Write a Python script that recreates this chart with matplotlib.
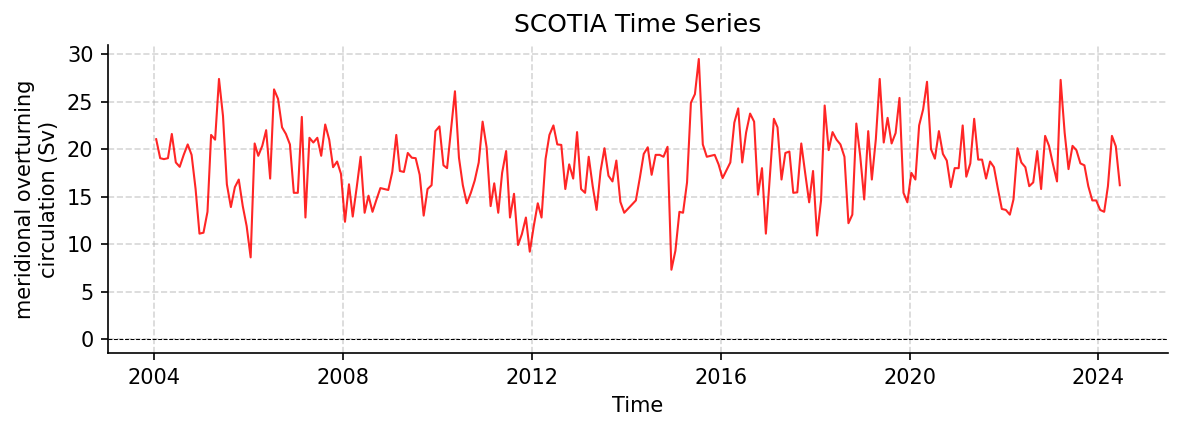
import numpy as np
import pandas as pd
import matplotlib
matplotlib.use("Agg")
import matplotlib.pyplot as plt

# Monthly SCOTIA MOC values (Sv), Jan 2004 - Jun 2024
moc_values = [
    # 2004
    21.05, 19.05, 18.95, 19.05, 21.6, 18.6, 18.14, 19.4, 20.5, 19.4, 15.8, 11.1,
    # 2005
    11.2, 13.4, 21.5, 21.0, 27.4, 23.5, 16.3, 13.9, 16.0, 16.8, 14.0, 11.9,
    # 2006
    8.6, 20.6, 19.3, 20.35, 22.0, 16.9, 26.3, 25.3, 22.3, 21.6, 20.5, 15.4,
    # 2007
    15.4, 23.4, 12.8, 21.2, 20.7, 21.2, 19.3, 22.6, 21.0, 18.1, 18.7, 17.4,
    # 2008
    12.35, 16.3, 12.9, 16.0, 19.2, 13.3, 15.1, 13.4, 14.7, 15.9, 15.8, 15.7,
    # 2009
    17.6, 21.5, 17.7, 17.6, 19.6, 19.1, 19.05, 17.3, 13.0, 15.8, 16.2, 21.9,
    # 2010
    22.4, 18.3, 18.0, 22.1, 26.1, 19.1, 16.2, 14.3, 15.4, 16.7, 18.6, 22.9,
    # 2011
    20.2, 14.0, 16.4, 13.3, 17.5, 19.8, 12.8, 15.3, 9.9, 11.05, 12.8, 9.2,
    # 2012
    11.9, 14.3, 12.8, 18.95, 21.5, 22.5, 20.5, 20.45, 15.8, 18.4, 16.9, 21.8,
    # 2013
    15.8, 15.4, 19.2, 16.1, 13.6, 17.7, 20.1, 17.2, 16.6, 18.8, 14.45, 13.3,
    # 2014
    13.75, 14.2, 14.6, 17.0, 19.5, 20.2, 17.3, 19.4, 19.4, 19.2, 20.25, 7.3,
    # 2015
    9.3, 13.4, 13.3, 16.5, 24.9, 25.8, 29.5, 20.5, 19.2, 19.3, 19.4, 18.4,
    # 2016
    16.95, 17.8, 18.6, 22.8, 24.3, 18.6, 21.75, 23.75, 22.9, 15.2, 18.0, 11.1,
    # 2017
    17.2, 23.2, 22.3, 16.8, 19.6, 19.75, 15.4, 15.45, 20.6, 17.5, 14.4, 17.7,
    # 2018
    10.9, 14.6, 24.6, 19.9, 21.8, 21.0, 20.5, 19.2, 12.2, 13.1, 22.7, 19.3,
    # 2019
    14.7, 21.9, 16.8, 21.05, 27.4, 20.7, 23.3, 20.6, 21.7, 25.4, 15.4, 14.4,
    # 2020
    17.5, 16.8, 22.5, 24.2, 27.1, 20.0, 19.0, 21.9, 19.5, 18.8, 16.0, 18.0,
    # 2021
    18.0, 22.5, 17.1, 18.5, 23.2, 18.9, 18.9, 16.9, 18.7, 18.1, 15.8, 13.7,
    # 2022
    13.6, 13.1, 14.7, 20.1, 18.6, 18.1, 16.1, 16.5, 19.8, 15.8, 21.4, 20.35,
    # 2023
    18.4, 16.6, 27.3, 21.75, 17.9, 20.35, 19.9, 18.5, 18.3, 16.1, 14.6, 14.6,
    # 2024
    13.6, 13.4, 16.1, 21.4, 20.3, 16.2,
]

start_date = "2004-01-01"
dates = pd.date_range(start_date, periods=len(moc_values), freq="MS") + pd.Timedelta(days=14)

title_text = "SCOTIA Time Series"
xlabel_text = "Time"
ylabel_text = "meridional overturning\ncirculation (Sv)"

fig = plt.figure(figsize=(1182 / 150, 431 / 150), dpi=150)
ax = fig.add_axes([108 / 1182, 1 - 353 / 431, (1168 - 108) / 1182, (353 - 45) / 431])

ax.plot(dates, moc_values, color="red", alpha=0.85, linewidth=1.0)
ax.axhline(0, color="black", linestyle="--", linewidth=0.5)

ax.grid(True, linestyle="--", color="#b0b0b0", alpha=0.5, linewidth=0.8)
ax.spines["top"].set_visible(False)
ax.spines["right"].set_visible(False)

ax.set_title(title_text, fontsize=12)
ax.set_xlabel(xlabel_text, fontsize=10)
ax.set_ylabel(ylabel_text, fontsize=10)

fig.savefig("out.png", dpi=150)
